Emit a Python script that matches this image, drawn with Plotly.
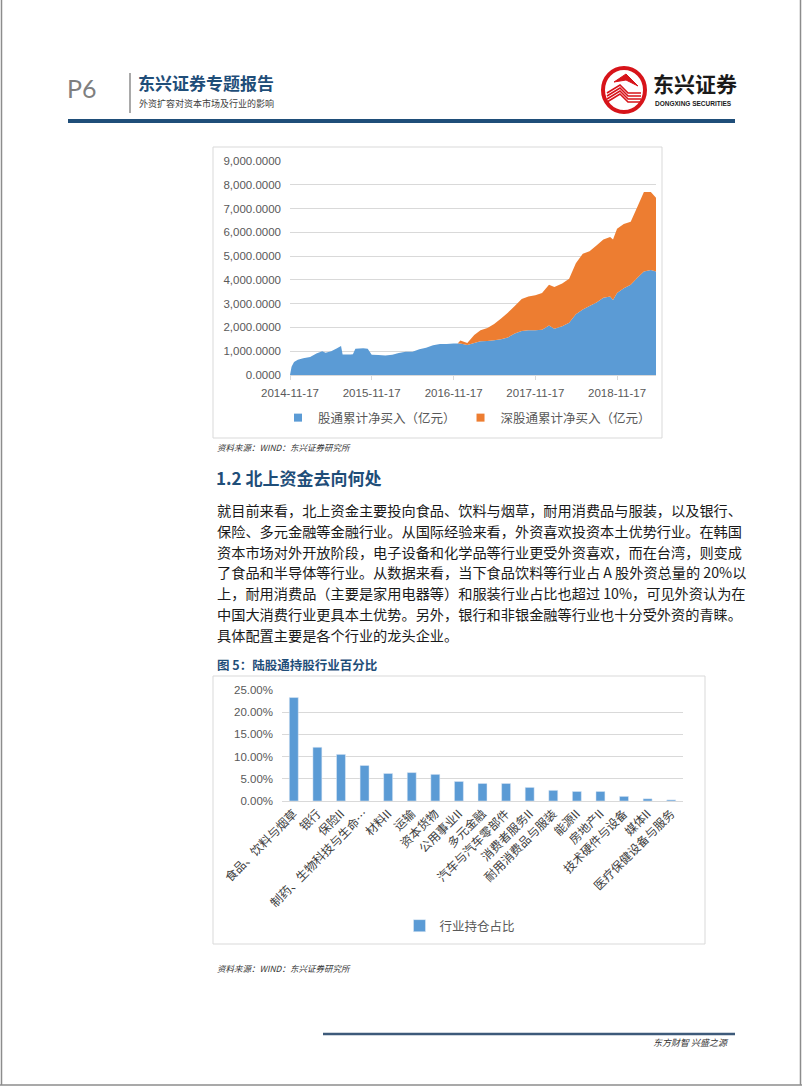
import plotly.graph_objects as go

W, H = 802, 1086
def X(p): return p / W
def Y(p): return 1 - p / H

# ---------------- data: chart 1 (cumulative net buy, 亿元) ----------------
dates = ["2014-11-17","2014-11-24","2014-12-05","2014-12-22","2015-01-15","2015-02-15","2015-03-15",
         "2015-04-10","2015-04-25","2015-05-20","2015-06-15","2015-07-03","2015-07-10","2015-08-15",
         "2015-08-25","2015-09-05","2015-10-10","2015-10-30","2015-11-17","2015-12-17","2016-01-17",
         "2016-02-17","2016-03-17","2016-04-17","2016-05-17","2016-06-17","2016-07-17","2016-08-17",
         "2016-09-17","2016-10-17","2016-11-17","2016-12-05","2016-12-17","2017-01-17","2017-02-17",
         "2017-03-17","2017-04-17","2017-05-17","2017-06-17","2017-07-17","2017-08-17","2017-09-17",
         "2017-10-17","2017-11-17","2017-12-17","2018-01-17","2018-02-10","2018-03-17","2018-04-17",
         "2018-05-17","2018-06-17","2018-07-17","2018-08-17","2018-09-17","2018-10-17","2018-10-30",
         "2018-11-17","2018-12-17","2019-01-17","2019-02-17","2019-03-17","2019-04-17","2019-05-10"]
sh_values = [0,350,550,640,700,760,900,
             1000,940,1000,1130,1220,860,860,
             870,1100,1130,1100,850,840,820,
             850,920,980,980,1080,1150,1250,
             1300,1300,1320,1330,1320,1260,1350,
             1420,1430,1460,1500,1580,1750,1850,
             1880,1880,1900,2080,1950,2050,2200,
             2550,2750,2900,3050,3250,3300,3150,
             3450,3650,3800,4100,4350,4420,4350]
sz_values = [0,0,0,0,0,0,0,
             0,0,0,0,0,0,0,
             0,0,0,0,0,0,0,
             0,0,0,0,0,0,0,
             0,0,0,0,130,90,330,
             460,550,690,880,1040,1150,1350,
             1420,1470,1550,1720,1750,1800,1850,
             2150,2350,2300,2400,2450,2500,2550,
             2700,2700,2650,3000,3350,3280,3100]
x_tick_dates = ["2014-11-17","2015-11-17","2016-11-17","2017-11-17","2018-11-17"]
sh_name = "股通累计净买入（亿元）"
sz_name = "深股通累计净买入（亿元）"

# ---------------- data: chart 2 (industry share) ----------------
industries = ["食品、饮料与烟草","银行","保险II","制药、生物科技与生命…","材料II","运输","资本货物",
              "公用事业II","多元金融","汽车与汽车零部件","消费者服务II","耐用消费品与服装","能源II",
              "房地产II","技术硬件与设备","媒体II","医疗保健设备与服务"]
shares = [0.233,0.121,0.105,0.080,0.062,0.064,0.060,0.044,0.0395,0.0395,0.0306,0.024,0.0215,0.0215,
          0.0104,0.005,0.0025]
bar_name = "行业持仓占比"

BLUE = "#5b9bd5"
ORANGE = "#ed7d31"
NAVY = "#1f4e79"
GRID = "#d9d9d9"
TICK = "#595959"
CJK = "Noto Sans CJK SC"

fig = go.Figure()
fig.add_trace(go.Scatter(x=dates, y=sh_values, name=sh_name, stackgroup="s", mode="none",
                         fillcolor=BLUE, xaxis="x", yaxis="y", showlegend=False))
fig.add_trace(go.Scatter(x=dates, y=sz_values, name=sz_name, stackgroup="s", mode="none",
                         fillcolor=ORANGE, xaxis="x", yaxis="y", showlegend=False))
# legend proxies (square keys, like the reference)
for nm, col in [(sh_name, BLUE), (sz_name, ORANGE)]:
    fig.add_trace(go.Scatter(x=[None], y=[None], name=nm, mode="markers",
                             marker=dict(symbol="square", size=8, color=col),
                             xaxis="x", yaxis="y", legend="legend", showlegend=True))
fig.add_trace(go.Bar(x=industries, y=shares, name=bar_name, marker_color=BLUE,
                     xaxis="x2", yaxis="y2", legend="legend2", showlegend=True))

axis_font = dict(family="Liberation Sans, Arial", size=11.5, color=TICK)

shapes = []
def line(x0, y0, x1, y1, color, width):
    shapes.append(dict(type="line", xref="paper", yref="paper", x0=X(x0), y0=Y(y0), x1=X(x1), y1=Y(y1),
                       line=dict(color=color, width=width), layer="above"))
def rect(x0, y0, x1, y1, color, width=1, fill="rgba(0,0,0,0)", layer="below"):
    shapes.append(dict(type="rect", xref="paper", yref="paper", x0=X(x0), y0=Y(y0), x1=X(x1), y1=Y(y1),
                       line=dict(color=color, width=width), fillcolor=fill, layer=layer))

# page borders
line(1.5, 0, 1.5, 1085, "#8c8c8c", 1.5)
line(800.5, 0, 800.5, 1085, "#8c8c8c", 1.5)
line(0, 1085, 802, 1085, "#8c8c8c", 1.5)
# header
line(130, 73, 130, 113, "#8c8c8c", 1.5)
line(68, 121, 735, 121, NAVY, 4)
# logo
shapes.append(dict(type="circle", xref="paper", yref="paper", x0=X(603), y0=Y(68), x1=X(645), y1=Y(112),
                   line=dict(color="#d7141a", width=4), fillcolor="white", layer="above"))
for k in range(4):
    shapes.append(dict(type="path", xref="paper", yref="paper",
                       path=f"M {X(607)},{Y(93+k*3)} L {X(620)},{Y(85+k*3)} L {X(628)},{Y(93+k*3)} L {X(641)},{Y(93+k*3)}",
                       line=dict(color="#d7141a", width=1.6), layer="above"))
shapes.append(dict(type="path", xref="paper", yref="paper",
                   path=f"M {X(614)},{Y(82)} L {X(626)},{Y(74)} L {X(638)},{Y(86)} L {X(626)},{Y(80)} Z",
                   fillcolor="#d7141a", line=dict(color="#d7141a", width=1), layer="above"))
# chart frames
rect(213, 147, 662, 438, GRID, 1)
rect(213, 676, 705, 944, GRID, 1)
# footer
line(323, 1034, 735, 1034, "#3d5a7a", 2.5)

ann = []
def text(x, y, s, size, color="#262626", family=CJK, xanchor="left", bold=False, italic=False):
    if bold:
        s = f"<b>{s}</b>"
    if italic:
        s = f"<i>{s}</i>"
    ann.append(dict(x=X(x), y=Y(y), xref="paper", yref="paper", text=s, showarrow=False,
                    xanchor=xanchor, yanchor="middle", font=dict(size=size, color=color, family=family)))

text(65, 88, "P6", 25, "#7f7f7f", "Lato, Liberation Sans")
text(136, 82, "东兴证券专题报告", 17, NAVY, CJK, bold=True)
text(137, 104, "外资扩容对资本市场及行业的影响", 9, "#404040")
text(651, 83, "东兴证券", 21, "#1a1a1a", CJK, bold=True)
text(653, 104, "DONGXING SECURITIES", 6.5, "#1a1a1a", "Liberation Sans", bold=True)

text(215, 447, "资料来源：WIND：东兴证券研究所", 8.5, "#333333", italic=True)
text(214, 477, "1.2 北上资金去向何处", 17, NAVY, CJK, bold=True)

para = ["就目前来看，北上资金主要投向食品、饮料与烟草，耐用消费品与服装，以及银行、",
        "保险、多元金融等金融行业。从国际经验来看，外资喜欢投资本土优势行业。在韩国",
        "资本市场对外开放阶段，电子设备和化学品等行业更受外资喜欢，而在台湾，则变成",
        "了食品和半导体等行业。从数据来看，当下食品饮料等行业占 A 股外资总量的 20%以",
        "上，耐用消费品（主要是家用电器等）和服装行业占比也超过 10%，可见外资认为在",
        "中国大消费行业更具本土优势。另外，银行和非银金融等行业也十分受外资的青睐。",
        "具体配置主要是各个行业的龙头企业。"]
for i, s in enumerate(para):
    text(215, 510 + i * 20.8, s, 14.2, "#1a1a1a")

text(215, 664, "图 5：陆股通持股行业百分比", 12.5, NAVY, CJK, bold=True)
text(215, 968, "资料来源：WIND：东兴证券研究所", 8.5, "#333333", italic=True)
text(731, 1042, "东方财智 兴盛之源", 9, "#333333", xanchor="right", italic=True)

fig.update_layout(
    width=W, height=H, margin=dict(l=0, r=0, t=0, b=0, autoexpand=False),
    paper_bgcolor="white", plot_bgcolor="white",
    shapes=shapes, annotations=ann, bargap=0.62,
    xaxis=dict(domain=[X(290), X(656)], anchor="y", type="date", automargin=False,
               range=["2014-11-17", "2019-05-10"], tickvals=x_tick_dates, ticktext=x_tick_dates,
               showgrid=False, showline=True, linecolor=GRID, ticks="outside", ticklen=4,
               tickcolor=GRID, tickfont=axis_font, ticklabelstandoff=3),
    yaxis=dict(domain=[Y(375), Y(161)], anchor="x", range=[0, 9000], dtick=1000, automargin=False,
               tickformat=",.4f", gridcolor=GRID, zeroline=False, showline=False,
               tickfont=axis_font, ticks="", ticklabelstandoff=8),
    xaxis2=dict(domain=[X(282), X(683)], anchor="y2", type="category", automargin=False,
                tickangle=-45, tickfont=dict(family=CJK, size=12, color="#404040"),
                showline=True, linecolor=GRID, showgrid=False, ticks=""),
    yaxis2=dict(domain=[Y(801), Y(690)], anchor="x2", range=[0, 0.25], dtick=0.05, automargin=False,
                tickformat=".2%", gridcolor=GRID, zeroline=False, showline=False,
                tickfont=axis_font, ticklabelstandoff=8),
    legend=dict(orientation="h", x=X(467), xanchor="center", y=Y(418), yanchor="middle",
                font=dict(family=CJK, size=12.5, color=TICK), traceorder="normal",
                bgcolor="rgba(0,0,0,0)", itemsizing="trace"),
    legend2=dict(orientation="h", x=X(460), xanchor="center", y=Y(926), yanchor="middle",
                 font=dict(family=CJK, size=12.5, color=TICK), bgcolor="rgba(0,0,0,0)"),
)

fig.write_html("out.html")
